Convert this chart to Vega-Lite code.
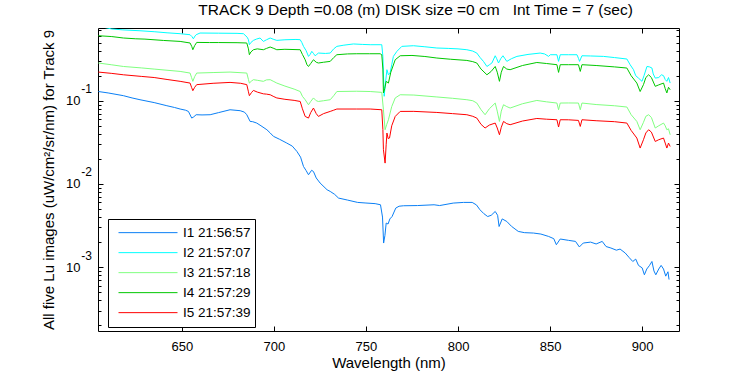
{
"$schema": "https://vega.github.io/schema/vega-lite/v6.json",
"width": 581, "height": 303,
"autosize": {"type": "none"},
"padding": {"left": 98, "top": 28, "right": 71, "bottom": 44},
"background": "white",
"config": {
  "view": {"stroke": "black", "strokeWidth": 1},
  "axis": {"grid": false, "domain": false, "tickColor": "black", "tickWidth": 1, "labelColor": "black", "labelFont": "Liberation Sans", "labelFontSize": 13, "titleFont": "Liberation Sans", "titleFontSize": 15, "titleFontWeight": "normal", "titleColor": "black", "labelFlush": false, "labelOverlap": false, "labelBound": false}
},
"title": {"text": "TRACK 9 Depth =0.08 (m) DISK size =0 cm\u00a0\u00a0 Int Time = 7 (sec)", "font": "Liberation Sans", "fontSize": 15.5, "fontWeight": "normal", "color": "black", "anchor": "middle", "dx": 27, "offset": 8},
"datasets": {"spec": [
{"s":"I1 21:56:57","w":604.7,"v":0.129},{"s":"I1 21:56:57","w":610,"v":0.124},{"s":"I1 21:56:57","w":618.3,"v":0.115},{"s":"I1 21:56:57","w":623,"v":0.108},{"s":"I1 21:56:57","w":627.3,"v":0.1028},{"s":"I1 21:56:57","w":635,"v":0.095},{"s":"I1 21:56:57","w":641.9,"v":0.0871},{"s":"I1 21:56:57","w":646,"v":0.083},{"s":"I1 21:56:57","w":649.1,"v":0.0795},{"s":"I1 21:56:57","w":652,"v":0.077},{"s":"I1 21:56:57","w":653.6,"v":0.0744},{"s":"I1 21:56:57","w":655.4,"v":0.0619},{"s":"I1 21:56:57","w":656.5,"v":0.064},{"s":"I1 21:56:57","w":657.8,"v":0.0679},{"s":"I1 21:56:57","w":661,"v":0.0675},{"s":"I1 21:56:57","w":665.4,"v":0.0679},{"s":"I1 21:56:57","w":670,"v":0.072},{"s":"I1 21:56:57","w":676.2,"v":0.0779},{"s":"I1 21:56:57","w":681.7,"v":0.0759},{"s":"I1 21:56:57","w":684,"v":0.073},{"s":"I1 21:56:57","w":685.3,"v":0.0679},{"s":"I1 21:56:57","w":687.1,"v":0.0564},{"s":"I1 21:56:57","w":688.5,"v":0.056},{"s":"I1 21:56:57","w":690.7,"v":0.0539},{"s":"I1 21:56:57","w":693,"v":0.05},{"s":"I1 21:56:57","w":696.2,"v":0.0448},{"s":"I1 21:56:57","w":698,"v":0.041},{"s":"I1 21:56:57","w":699.8,"v":0.0373},{"s":"I1 21:56:57","w":703,"v":0.0345},{"s":"I1 21:56:57","w":707,"v":0.031},{"s":"I1 21:56:57","w":710,"v":0.0285},{"s":"I1 21:56:57","w":712.5,"v":0.0246},{"s":"I1 21:56:57","w":714.5,"v":0.021},{"s":"I1 21:56:57","w":716.1,"v":0.0162},{"s":"I1 21:56:57","w":717.5,"v":0.0145},{"s":"I1 21:56:57","w":718.8,"v":0.0129},{"s":"I1 21:56:57","w":720.5,"v":0.0146},{"s":"I1 21:56:57","w":721.5,"v":0.0141},{"s":"I1 21:56:57","w":723,"v":0.0118},{"s":"I1 21:56:57","w":725.1,"v":0.01026},{"s":"I1 21:56:57","w":728.9,"v":0.00851},{"s":"I1 21:56:57","w":730.6,"v":0.00813},{"s":"I1 21:56:57","w":733,"v":0.0075},{"s":"I1 21:56:57","w":735.1,"v":0.00677},{"s":"I1 21:56:57","w":740,"v":0.0064},{"s":"I1 21:56:57","w":745.5,"v":0.006},{"s":"I1 21:56:57","w":750,"v":0.0059},{"s":"I1 21:56:57","w":755,"v":0.0058},{"s":"I1 21:56:57","w":757.9,"v":0.00562},{"s":"I1 21:56:57","w":759,"v":0.004},{"s":"I1 21:56:57","w":759.6,"v":0.00195},{"s":"I1 21:56:57","w":760.3,"v":0.0024},{"s":"I1 21:56:57","w":761,"v":0.00339},{"s":"I1 21:56:57","w":762,"v":0.0033},{"s":"I1 21:56:57","w":763,"v":0.0038},{"s":"I1 21:56:57","w":764.2,"v":0.00406},{"s":"I1 21:56:57","w":766.2,"v":0.00513},{"s":"I1 21:56:57","w":768,"v":0.0054},{"s":"I1 21:56:57","w":770.4,"v":0.00547},{"s":"I1 21:56:57","w":778,"v":0.0055},{"s":"I1 21:56:57","w":787,"v":0.00562},{"s":"I1 21:56:57","w":790,"v":0.0055},{"s":"I1 21:56:57","w":797.4,"v":0.00589},{"s":"I1 21:56:57","w":803,"v":0.006},{"s":"I1 21:56:57","w":807.7,"v":0.006},{"s":"I1 21:56:57","w":810,"v":0.0056},{"s":"I1 21:56:57","w":811.9,"v":0.0049},{"s":"I1 21:56:57","w":814,"v":0.0044},{"s":"I1 21:56:57","w":816.1,"v":0.00406},{"s":"I1 21:56:57","w":818,"v":0.0042},{"s":"I1 21:56:57","w":820.2,"v":0.00467},{"s":"I1 21:56:57","w":821.5,"v":0.0042},{"s":"I1 21:56:57","w":822.3,"v":0.00308},{"s":"I1 21:56:57","w":824,"v":0.0038},{"s":"I1 21:56:57","w":826.5,"v":0.00354},{"s":"I1 21:56:57","w":829,"v":0.0031},{"s":"I1 21:56:57","w":832.7,"v":0.00269},{"s":"I1 21:56:57","w":836,"v":0.0026},{"s":"I1 21:56:57","w":841,"v":0.00257},{"s":"I1 21:56:57","w":845,"v":0.0025},{"s":"I1 21:56:57","w":849.2,"v":0.00234},{"s":"I1 21:56:57","w":852,"v":0.0022},{"s":"I1 21:56:57","w":853.4,"v":0.00186},{"s":"I1 21:56:57","w":855.5,"v":0.00218},{"s":"I1 21:56:57","w":860,"v":0.0021},{"s":"I1 21:56:57","w":863.8,"v":0.00204},{"s":"I1 21:56:57","w":865.9,"v":0.00175},{"s":"I1 21:56:57","w":868,"v":0.00195},{"s":"I1 21:56:57","w":872,"v":0.002},{"s":"I1 21:56:57","w":875,"v":0.0019},{"s":"I1 21:56:57","w":878.3,"v":0.00204},{"s":"I1 21:56:57","w":880.4,"v":0.00177},{"s":"I1 21:56:57","w":883,"v":0.0017},{"s":"I1 21:56:57","w":886,"v":0.0016},{"s":"I1 21:56:57","w":888,"v":0.00165},{"s":"I1 21:56:57","w":890.8,"v":0.00148},{"s":"I1 21:56:57","w":893,"v":0.0013},{"s":"I1 21:56:57","w":894.9,"v":0.00117},{"s":"I1 21:56:57","w":896.5,"v":0.00125},{"s":"I1 21:56:57","w":898,"v":0.00105},{"s":"I1 21:56:57","w":900,"v":0.00098},{"s":"I1 21:56:57","w":901.2,"v":0.00081},{"s":"I1 21:56:57","w":902.5,"v":0.00095},{"s":"I1 21:56:57","w":904,"v":0.00105},{"s":"I1 21:56:57","w":905.3,"v":0.00117},{"s":"I1 21:56:57","w":906.4,"v":0.0009},{"s":"I1 21:56:57","w":907.4,"v":0.00081},{"s":"I1 21:56:57","w":909,"v":0.00095},{"s":"I1 21:56:57","w":910.3,"v":0.00105},{"s":"I1 21:56:57","w":911.6,"v":0.00095},{"s":"I1 21:56:57","w":912.8,"v":0.00078},{"s":"I1 21:56:57","w":914,"v":0.00088},{"s":"I1 21:56:57","w":914.6,"v":0.00071},
{"s":"I2 21:57:07","w":604.7,"v":0.78},{"s":"I2 21:57:07","w":608,"v":0.76},{"s":"I2 21:57:07","w":612,"v":0.728},{"s":"I2 21:57:07","w":618,"v":0.71},{"s":"I2 21:57:07","w":627.3,"v":0.693},{"s":"I2 21:57:07","w":635,"v":0.675},{"s":"I2 21:57:07","w":642,"v":0.655},{"s":"I2 21:57:07","w":649.1,"v":0.639},{"s":"I2 21:57:07","w":654.5,"v":0.621},{"s":"I2 21:57:07","w":655.5,"v":0.59},{"s":"I2 21:57:07","w":656.3,"v":0.555},{"s":"I2 21:57:07","w":657.2,"v":0.6},{"s":"I2 21:57:07","w":657.8,"v":0.621},{"s":"I2 21:57:07","w":659.9,"v":0.651},{"s":"I2 21:57:07","w":670,"v":0.648},{"s":"I2 21:57:07","w":680,"v":0.645},{"s":"I2 21:57:07","w":683.5,"v":0.639},{"s":"I2 21:57:07","w":685.5,"v":0.58},{"s":"I2 21:57:07","w":686.2,"v":0.541},{"s":"I2 21:57:07","w":686.7,"v":0.471},{"s":"I2 21:57:07","w":687.5,"v":0.5},{"s":"I2 21:57:07","w":688.9,"v":0.531},{"s":"I2 21:57:07","w":690.5,"v":0.55},{"s":"I2 21:57:07","w":692.5,"v":0.567},{"s":"I2 21:57:07","w":694.3,"v":0.516},{"s":"I2 21:57:07","w":696,"v":0.54},{"s":"I2 21:57:07","w":698,"v":0.567},{"s":"I2 21:57:07","w":700,"v":0.545},{"s":"I2 21:57:07","w":701.6,"v":0.531},{"s":"I2 21:57:07","w":706,"v":0.54},{"s":"I2 21:57:07","w":712,"v":0.545},{"s":"I2 21:57:07","w":714.3,"v":0.541},{"s":"I2 21:57:07","w":715.2,"v":0.5},{"s":"I2 21:57:07","w":716.1,"v":0.45},{"s":"I2 21:57:07","w":717.5,"v":0.4},{"s":"I2 21:57:07","w":718.8,"v":0.341},{"s":"I2 21:57:07","w":719.7,"v":0.36},{"s":"I2 21:57:07","w":720.6,"v":0.392},{"s":"I2 21:57:07","w":721.5,"v":0.37},{"s":"I2 21:57:07","w":722.4,"v":0.347},{"s":"I2 21:57:07","w":723.3,"v":0.36},{"s":"I2 21:57:07","w":724.2,"v":0.374},{"s":"I2 21:57:07","w":728,"v":0.37},{"s":"I2 21:57:07","w":730.6,"v":0.374},{"s":"I2 21:57:07","w":732.5,"v":0.42},{"s":"I2 21:57:07","w":734.2,"v":0.45},{"s":"I2 21:57:07","w":738,"v":0.465},{"s":"I2 21:57:07","w":743.2,"v":0.481},{"s":"I2 21:57:07","w":748,"v":0.475},{"s":"I2 21:57:07","w":752.3,"v":0.471},{"s":"I2 21:57:07","w":757.7,"v":0.471},{"s":"I2 21:57:07","w":758.6,"v":0.471},{"s":"I2 21:57:07","w":759.2,"v":0.341},{"s":"I2 21:57:07","w":759.9,"v":0.113},{"s":"I2 21:57:07","w":760.4,"v":0.149},{"s":"I2 21:57:07","w":761.4,"v":0.236},{"s":"I2 21:57:07","w":762.2,"v":0.205},{"s":"I2 21:57:07","w":763.1,"v":0.215},{"s":"I2 21:57:07","w":764,"v":0.27},{"s":"I2 21:57:07","w":764.9,"v":0.341},{"s":"I2 21:57:07","w":766.8,"v":0.392},{"s":"I2 21:57:07","w":769.5,"v":0.45},{"s":"I2 21:57:07","w":775.8,"v":0.458},{"s":"I2 21:57:07","w":782,"v":0.445},{"s":"I2 21:57:07","w":788.5,"v":0.43},{"s":"I2 21:57:07","w":795,"v":0.425},{"s":"I2 21:57:07","w":800,"v":0.42},{"s":"I2 21:57:07","w":804.8,"v":0.41},{"s":"I2 21:57:07","w":808,"v":0.395},{"s":"I2 21:57:07","w":810.2,"v":0.374},{"s":"I2 21:57:07","w":812,"v":0.33},{"s":"I2 21:57:07","w":813.8,"v":0.297},{"s":"I2 21:57:07","w":815.7,"v":0.258},{"s":"I2 21:57:07","w":817,"v":0.27},{"s":"I2 21:57:07","w":818.4,"v":0.284},{"s":"I2 21:57:07","w":820.2,"v":0.347},{"s":"I2 21:57:07","w":821,"v":0.32},{"s":"I2 21:57:07","w":822,"v":0.284},{"s":"I2 21:57:07","w":823.2,"v":0.32},{"s":"I2 21:57:07","w":824.4,"v":0.347},{"s":"I2 21:57:07","w":825.5,"v":0.32},{"s":"I2 21:57:07","w":826.5,"v":0.297},{"s":"I2 21:57:07","w":829,"v":0.32},{"s":"I2 21:57:07","w":832,"v":0.341},{"s":"I2 21:57:07","w":838,"v":0.36},{"s":"I2 21:57:07","w":844.6,"v":0.374},{"s":"I2 21:57:07","w":847,"v":0.365},{"s":"I2 21:57:07","w":849.2,"v":0.341},{"s":"I2 21:57:07","w":850.1,"v":0.357},{"s":"I2 21:57:07","w":853.7,"v":0.357},{"s":"I2 21:57:07","w":854.6,"v":0.297},{"s":"I2 21:57:07","w":855.5,"v":0.357},{"s":"I2 21:57:07","w":860,"v":0.357},{"s":"I2 21:57:07","w":864.6,"v":0.357},{"s":"I2 21:57:07","w":865.5,"v":0.32},{"s":"I2 21:57:07","w":866,"v":0.297},{"s":"I2 21:57:07","w":867.3,"v":0.347},{"s":"I2 21:57:07","w":872,"v":0.345},{"s":"I2 21:57:07","w":879,"v":0.341},{"s":"I2 21:57:07","w":885,"v":0.33},{"s":"I2 21:57:07","w":891.7,"v":0.317},{"s":"I2 21:57:07","w":893.5,"v":0.27},{"s":"I2 21:57:07","w":895.3,"v":0.236},{"s":"I2 21:57:07","w":896.5,"v":0.2},{"s":"I2 21:57:07","w":898,"v":0.187},{"s":"I2 21:57:07","w":899.9,"v":0.171},{"s":"I2 21:57:07","w":901,"v":0.2},{"s":"I2 21:57:07","w":902.6,"v":0.258},{"s":"I2 21:57:07","w":904,"v":0.255},{"s":"I2 21:57:07","w":905.3,"v":0.247},{"s":"I2 21:57:07","w":906,"v":0.21},{"s":"I2 21:57:07","w":907.1,"v":0.187},{"s":"I2 21:57:07","w":909,"v":0.19},{"s":"I2 21:57:07","w":910.5,"v":0.205},{"s":"I2 21:57:07","w":911.6,"v":0.2},{"s":"I2 21:57:07","w":912.5,"v":0.18},{"s":"I2 21:57:07","w":913.4,"v":0.171},{"s":"I2 21:57:07","w":914.3,"v":0.19},{"s":"I2 21:57:07","w":915.2,"v":0.163},
{"s":"I3 21:57:18","w":604.7,"v":0.284},{"s":"I3 21:57:18","w":612,"v":0.27},{"s":"I3 21:57:18","w":618.3,"v":0.258},{"s":"I3 21:57:18","w":628,"v":0.248},{"s":"I3 21:57:18","w":635,"v":0.24},{"s":"I3 21:57:18","w":649.1,"v":0.225},{"s":"I3 21:57:18","w":654.5,"v":0.215},{"s":"I3 21:57:18","w":655.3,"v":0.19},{"s":"I3 21:57:18","w":656,"v":0.171},{"s":"I3 21:57:18","w":657,"v":0.195},{"s":"I3 21:57:18","w":658.1,"v":0.215},{"s":"I3 21:57:18","w":667,"v":0.218},{"s":"I3 21:57:18","w":676.2,"v":0.221},{"s":"I3 21:57:18","w":685.3,"v":0.215},{"s":"I3 21:57:18","w":686.2,"v":0.18},{"s":"I3 21:57:18","w":686.7,"v":0.163},{"s":"I3 21:57:18","w":687.8,"v":0.172},{"s":"I3 21:57:18","w":688.9,"v":0.179},{"s":"I3 21:57:18","w":691,"v":0.176},{"s":"I3 21:57:18","w":694.3,"v":0.171},{"s":"I3 21:57:18","w":696,"v":0.178},{"s":"I3 21:57:18","w":698,"v":0.179},{"s":"I3 21:57:18","w":700,"v":0.17},{"s":"I3 21:57:18","w":701.6,"v":0.163},{"s":"I3 21:57:18","w":706,"v":0.15},{"s":"I3 21:57:18","w":711,"v":0.138},{"s":"I3 21:57:18","w":714.3,"v":0.129},{"s":"I3 21:57:18","w":715.5,"v":0.113},{"s":"I3 21:57:18","w":717,"v":0.1028},{"s":"I3 21:57:18","w":718.8,"v":0.0895},{"s":"I3 21:57:18","w":720,"v":0.098},{"s":"I3 21:57:18","w":721.5,"v":0.108},{"s":"I3 21:57:18","w":723,"v":0.1},{"s":"I3 21:57:18","w":724.2,"v":0.098},{"s":"I3 21:57:18","w":727,"v":0.1},{"s":"I3 21:57:18","w":730.6,"v":0.1028},{"s":"I3 21:57:18","w":732.5,"v":0.115},{"s":"I3 21:57:18","w":734.2,"v":0.129},{"s":"I3 21:57:18","w":745,"v":0.13},{"s":"I3 21:57:18","w":752.3,"v":0.129},{"s":"I3 21:57:18","w":758.6,"v":0.126},{"s":"I3 21:57:18","w":759.5,"v":0.0779},{"s":"I3 21:57:18","w":760.4,"v":0.0448},{"s":"I3 21:57:18","w":761.3,"v":0.052},{"s":"I3 21:57:18","w":762.2,"v":0.0591},{"s":"I3 21:57:18","w":764,"v":0.085},{"s":"I3 21:57:18","w":765.9,"v":0.108},{"s":"I3 21:57:18","w":768.6,"v":0.118},{"s":"I3 21:57:18","w":776,"v":0.117},{"s":"I3 21:57:18","w":788.5,"v":0.111},{"s":"I3 21:57:18","w":797,"v":0.107},{"s":"I3 21:57:18","w":804.8,"v":0.1028},{"s":"I3 21:57:18","w":808,"v":0.1},{"s":"I3 21:57:18","w":810.2,"v":0.0938},{"s":"I3 21:57:18","w":812.5,"v":0.078},{"s":"I3 21:57:18","w":814.7,"v":0.0679},{"s":"I3 21:57:18","w":817,"v":0.08},{"s":"I3 21:57:18","w":820.2,"v":0.0938},{"s":"I3 21:57:18","w":821.3,"v":0.075},{"s":"I3 21:57:18","w":822.5,"v":0.0564},{"s":"I3 21:57:18","w":823.5,"v":0.075},{"s":"I3 21:57:18","w":824.7,"v":0.0895},{"s":"I3 21:57:18","w":826.5,"v":0.085},{"s":"I3 21:57:18","w":828.3,"v":0.0817},{"s":"I3 21:57:18","w":835,"v":0.092},{"s":"I3 21:57:18","w":842.8,"v":0.1008},{"s":"I3 21:57:18","w":848,"v":0.097},{"s":"I3 21:57:18","w":853.7,"v":0.0938},{"s":"I3 21:57:18","w":854.6,"v":0.0779},{"s":"I3 21:57:18","w":855.5,"v":0.0938},{"s":"I3 21:57:18","w":860,"v":0.094},{"s":"I3 21:57:18","w":865.4,"v":0.0938},{"s":"I3 21:57:18","w":866.4,"v":0.0779},{"s":"I3 21:57:18","w":867.3,"v":0.0938},{"s":"I3 21:57:18","w":875,"v":0.09},{"s":"I3 21:57:18","w":885,"v":0.087},{"s":"I3 21:57:18","w":891.7,"v":0.084},{"s":"I3 21:57:18","w":894,"v":0.068},{"s":"I3 21:57:18","w":897.1,"v":0.0564},{"s":"I3 21:57:18","w":898.9,"v":0.0448},{"s":"I3 21:57:18","w":900.7,"v":0.055},{"s":"I3 21:57:18","w":902,"v":0.065},{"s":"I3 21:57:18","w":903.5,"v":0.0679},{"s":"I3 21:57:18","w":905,"v":0.063},{"s":"I3 21:57:18","w":907.1,"v":0.047},{"s":"I3 21:57:18","w":909,"v":0.05},{"s":"I3 21:57:18","w":911.6,"v":0.0539},{"s":"I3 21:57:18","w":912.5,"v":0.05},{"s":"I3 21:57:18","w":913.4,"v":0.0448},{"s":"I3 21:57:18","w":914.3,"v":0.046},{"s":"I3 21:57:18","w":915.2,"v":0.039},
{"s":"I4 21:57:29","w":604.7,"v":0.604},{"s":"I4 21:57:29","w":612,"v":0.59},{"s":"I4 21:57:29","w":618.3,"v":0.567},{"s":"I4 21:57:29","w":625,"v":0.555},{"s":"I4 21:57:29","w":630,"v":0.55},{"s":"I4 21:57:29","w":640,"v":0.53},{"s":"I4 21:57:29","w":649.1,"v":0.516},{"s":"I4 21:57:29","w":654.5,"v":0.494},{"s":"I4 21:57:29","w":655.4,"v":0.45},{"s":"I4 21:57:29","w":656,"v":0.41},{"s":"I4 21:57:29","w":657,"v":0.46},{"s":"I4 21:57:29","w":658.1,"v":0.502},{"s":"I4 21:57:29","w":665,"v":0.5},{"s":"I4 21:57:29","w":670,"v":0.5},{"s":"I4 21:57:29","w":680,"v":0.498},{"s":"I4 21:57:29","w":685.3,"v":0.494},{"s":"I4 21:57:29","w":686.2,"v":0.42},{"s":"I4 21:57:29","w":686.7,"v":0.357},{"s":"I4 21:57:29","w":687.5,"v":0.385},{"s":"I4 21:57:29","w":688.9,"v":0.41},{"s":"I4 21:57:29","w":691,"v":0.42},{"s":"I4 21:57:29","w":694.3,"v":0.41},{"s":"I4 21:57:29","w":696,"v":0.425},{"s":"I4 21:57:29","w":698,"v":0.442},{"s":"I4 21:57:29","w":700,"v":0.425},{"s":"I4 21:57:29","w":701.6,"v":0.41},{"s":"I4 21:57:29","w":706,"v":0.415},{"s":"I4 21:57:29","w":714.3,"v":0.41},{"s":"I4 21:57:29","w":715.5,"v":0.36},{"s":"I4 21:57:29","w":717,"v":0.311},{"s":"I4 21:57:29","w":718,"v":0.27},{"s":"I4 21:57:29","w":718.8,"v":0.258},{"s":"I4 21:57:29","w":720,"v":0.28},{"s":"I4 21:57:29","w":721.5,"v":0.311},{"s":"I4 21:57:29","w":723,"v":0.29},{"s":"I4 21:57:29","w":724.2,"v":0.284},{"s":"I4 21:57:29","w":727,"v":0.29},{"s":"I4 21:57:29","w":730.6,"v":0.297},{"s":"I4 21:57:29","w":732.5,"v":0.33},{"s":"I4 21:57:29","w":734.2,"v":0.357},{"s":"I4 21:57:29","w":740,"v":0.365},{"s":"I4 21:57:29","w":745,"v":0.367},{"s":"I4 21:57:29","w":752,"v":0.367},{"s":"I4 21:57:29","w":757.7,"v":0.367},{"s":"I4 21:57:29","w":758.6,"v":0.357},{"s":"I4 21:57:29","w":759.2,"v":0.24},{"s":"I4 21:57:29","w":759.5,"v":0.124},{"s":"I4 21:57:29","w":760.2,"v":0.14},{"s":"I4 21:57:29","w":761,"v":0.171},{"s":"I4 21:57:29","w":762.2,"v":0.163},{"s":"I4 21:57:29","w":763.5,"v":0.22},{"s":"I4 21:57:29","w":765.9,"v":0.311},{"s":"I4 21:57:29","w":768.6,"v":0.347},{"s":"I4 21:57:29","w":775,"v":0.35},{"s":"I4 21:57:29","w":782,"v":0.34},{"s":"I4 21:57:29","w":788.5,"v":0.326},{"s":"I4 21:57:29","w":796,"v":0.315},{"s":"I4 21:57:29","w":804.8,"v":0.305},{"s":"I4 21:57:29","w":808,"v":0.295},{"s":"I4 21:57:29","w":810.2,"v":0.284},{"s":"I4 21:57:29","w":812.5,"v":0.24},{"s":"I4 21:57:29","w":815.7,"v":0.205},{"s":"I4 21:57:29","w":818,"v":0.225},{"s":"I4 21:57:29","w":820.2,"v":0.258},{"s":"I4 21:57:29","w":821.3,"v":0.22},{"s":"I4 21:57:29","w":822.5,"v":0.171},{"s":"I4 21:57:29","w":823.5,"v":0.22},{"s":"I4 21:57:29","w":824.7,"v":0.258},{"s":"I4 21:57:29","w":826.5,"v":0.24},{"s":"I4 21:57:29","w":828.3,"v":0.236},{"s":"I4 21:57:29","w":835,"v":0.265},{"s":"I4 21:57:29","w":842.8,"v":0.288},{"s":"I4 21:57:29","w":848,"v":0.28},{"s":"I4 21:57:29","w":853.7,"v":0.271},{"s":"I4 21:57:29","w":854.6,"v":0.219},{"s":"I4 21:57:29","w":855.5,"v":0.271},{"s":"I4 21:57:29","w":860,"v":0.271},{"s":"I4 21:57:29","w":865.4,"v":0.271},{"s":"I4 21:57:29","w":866.4,"v":0.225},{"s":"I4 21:57:29","w":867.3,"v":0.271},{"s":"I4 21:57:29","w":875,"v":0.265},{"s":"I4 21:57:29","w":885,"v":0.255},{"s":"I4 21:57:29","w":891.7,"v":0.247},{"s":"I4 21:57:29","w":894,"v":0.2},{"s":"I4 21:57:29","w":897.1,"v":0.163},{"s":"I4 21:57:29","w":898.9,"v":0.129},{"s":"I4 21:57:29","w":900.7,"v":0.156},{"s":"I4 21:57:29","w":902,"v":0.19},{"s":"I4 21:57:29","w":903.5,"v":0.205},{"s":"I4 21:57:29","w":905,"v":0.19},{"s":"I4 21:57:29","w":907.1,"v":0.149},{"s":"I4 21:57:29","w":909,"v":0.155},{"s":"I4 21:57:29","w":911.6,"v":0.163},{"s":"I4 21:57:29","w":912.5,"v":0.14},{"s":"I4 21:57:29","w":913.4,"v":0.124},{"s":"I4 21:57:29","w":914.3,"v":0.145},{"s":"I4 21:57:29","w":915.2,"v":0.1355},
{"s":"I5 21:57:39","w":604.7,"v":0.221},{"s":"I5 21:57:39","w":612,"v":0.213},{"s":"I5 21:57:39","w":618.3,"v":0.205},{"s":"I5 21:57:39","w":628,"v":0.196},{"s":"I5 21:57:39","w":635,"v":0.19},{"s":"I5 21:57:39","w":642,"v":0.18},{"s":"I5 21:57:39","w":649.1,"v":0.171},{"s":"I5 21:57:39","w":654.5,"v":0.163},{"s":"I5 21:57:39","w":655.3,"v":0.145},{"s":"I5 21:57:39","w":656,"v":0.132},{"s":"I5 21:57:39","w":657,"v":0.145},{"s":"I5 21:57:39","w":658.1,"v":0.156},{"s":"I5 21:57:39","w":667,"v":0.162},{"s":"I5 21:57:39","w":676.2,"v":0.166},{"s":"I5 21:57:39","w":682,"v":0.162},{"s":"I5 21:57:39","w":685.3,"v":0.156},{"s":"I5 21:57:39","w":686.2,"v":0.128},{"s":"I5 21:57:39","w":686.7,"v":0.115},{"s":"I5 21:57:39","w":687.8,"v":0.125},{"s":"I5 21:57:39","w":688.9,"v":0.133},{"s":"I5 21:57:39","w":691,"v":0.127},{"s":"I5 21:57:39","w":694.3,"v":0.121},{"s":"I5 21:57:39","w":696,"v":0.12},{"s":"I5 21:57:39","w":698,"v":0.118},{"s":"I5 21:57:39","w":700,"v":0.112},{"s":"I5 21:57:39","w":701.6,"v":0.108},{"s":"I5 21:57:39","w":706,"v":0.104},{"s":"I5 21:57:39","w":711,"v":0.101},{"s":"I5 21:57:39","w":714.3,"v":0.098},{"s":"I5 21:57:39","w":715.5,"v":0.08},{"s":"I5 21:57:39","w":717,"v":0.0648},{"s":"I5 21:57:39","w":718.8,"v":0.0619},{"s":"I5 21:57:39","w":720,"v":0.072},{"s":"I5 21:57:39","w":721.5,"v":0.0817},{"s":"I5 21:57:39","w":723,"v":0.07},{"s":"I5 21:57:39","w":724.2,"v":0.0648},{"s":"I5 21:57:39","w":727,"v":0.07},{"s":"I5 21:57:39","w":730.6,"v":0.0744},{"s":"I5 21:57:39","w":732.5,"v":0.077},{"s":"I5 21:57:39","w":734.2,"v":0.0795},{"s":"I5 21:57:39","w":745,"v":0.0795},{"s":"I5 21:57:39","w":752.3,"v":0.0795},{"s":"I5 21:57:39","w":758.6,"v":0.0779},{"s":"I5 21:57:39","w":759.2,"v":0.045},{"s":"I5 21:57:39","w":759.5,"v":0.0258},{"s":"I5 21:57:39","w":760.4,"v":0.0178},{"s":"I5 21:57:39","w":761,"v":0.03},{"s":"I5 21:57:39","w":761.4,"v":0.0409},{"s":"I5 21:57:39","w":762.1,"v":0.035},{"s":"I5 21:57:39","w":762.8,"v":0.0356},{"s":"I5 21:57:39","w":764,"v":0.05},{"s":"I5 21:57:39","w":765.9,"v":0.0648},{"s":"I5 21:57:39","w":768.6,"v":0.0744},{"s":"I5 21:57:39","w":776,"v":0.0745},{"s":"I5 21:57:39","w":788.5,"v":0.0723},{"s":"I5 21:57:39","w":797,"v":0.07},{"s":"I5 21:57:39","w":804.8,"v":0.0679},{"s":"I5 21:57:39","w":808,"v":0.065},{"s":"I5 21:57:39","w":810.2,"v":0.0619},{"s":"I5 21:57:39","w":812.5,"v":0.052},{"s":"I5 21:57:39","w":814.7,"v":0.047},{"s":"I5 21:57:39","w":817,"v":0.051},{"s":"I5 21:57:39","w":820.2,"v":0.0539},{"s":"I5 21:57:39","w":821.3,"v":0.047},{"s":"I5 21:57:39","w":822.5,"v":0.039},{"s":"I5 21:57:39","w":823.5,"v":0.048},{"s":"I5 21:57:39","w":824.7,"v":0.0564},{"s":"I5 21:57:39","w":826.5,"v":0.053},{"s":"I5 21:57:39","w":828.3,"v":0.0515},{"s":"I5 21:57:39","w":835,"v":0.057},{"s":"I5 21:57:39","w":842.8,"v":0.0612},{"s":"I5 21:57:39","w":848,"v":0.06},{"s":"I5 21:57:39","w":853.7,"v":0.0591},{"s":"I5 21:57:39","w":854.6,"v":0.0483},{"s":"I5 21:57:39","w":855.5,"v":0.0591},{"s":"I5 21:57:39","w":860,"v":0.059},{"s":"I5 21:57:39","w":865.4,"v":0.058},{"s":"I5 21:57:39","w":866.4,"v":0.0491},{"s":"I5 21:57:39","w":867.3,"v":0.0591},{"s":"I5 21:57:39","w":875,"v":0.0575},{"s":"I5 21:57:39","w":885,"v":0.056},{"s":"I5 21:57:39","w":891.7,"v":0.0539},{"s":"I5 21:57:39","w":894,"v":0.044},{"s":"I5 21:57:39","w":897.1,"v":0.0356},{"s":"I5 21:57:39","w":898.9,"v":0.027},{"s":"I5 21:57:39","w":900.7,"v":0.034},{"s":"I5 21:57:39","w":902,"v":0.041},{"s":"I5 21:57:39","w":903.5,"v":0.0448},{"s":"I5 21:57:39","w":905,"v":0.042},{"s":"I5 21:57:39","w":907.1,"v":0.0324},{"s":"I5 21:57:39","w":909,"v":0.034},{"s":"I5 21:57:39","w":911.6,"v":0.0356},{"s":"I5 21:57:39","w":912.5,"v":0.031},{"s":"I5 21:57:39","w":913.4,"v":0.027},{"s":"I5 21:57:39","w":914.3,"v":0.031},{"s":"I5 21:57:39","w":915.2,"v":0.0282}
]},
"data": {"name": "spec"},
"layer": [
  {"mark": {"type": "line", "clip": true, "strokeWidth": 1},
   "encoding": {
     "x": {"field": "w", "type": "quantitative", "scale": {"domain": [604.5, 920], "nice": false, "zero": false},
           "axis": {"orient": "bottom", "values": [650, 700, 750, 800, 850, 900], "ticks": false, "labelPadding": 9, "title": "Wavelength (nm)", "titlePadding": 2}},
     "y": {"field": "v", "type": "quantitative", "scale": {"type": "log", "domain": [0.000171, 0.748], "nice": false},
           "axis": {"orient": "left", "values": [0.001, 0.01, 0.1], "ticks": false, "labelExpr": "'10'", "labelPadding": 18, "labelAlign": "right", "labelBaseline": "middle", "title": "All five Lu images (uW/cm²/sr/nm) for Track 9", "titlePadding": 9}},
     "color": {"field": "s", "type": "nominal",
       "scale": {"domain": ["I1 21:56:57", "I2 21:57:07", "I3 21:57:18", "I4 21:57:29", "I5 21:57:39"], "range": ["#0A7FF5", "#00FFFF", "#80FF80", "#00C800", "#FF0000"]},
       "legend": {"orient": "none", "legendX": 10, "legendY": 191, "direction": "vertical", "title": null, "symbolType": "stroke", "symbolSize": 3481, "symbolStrokeWidth": 1, "clipHeight": 19.3, "rowPadding": 0, "padding": 4, "strokeColor": "black", "fillColor": "white", "labelFont": "Liberation Sans", "labelFontSize": 13.5, "labelColor": "black", "symbolOffset": 6, "labelOffset": 5, "cornerRadius": 0}}
   }},
  {"mark": {"type": "line", "opacity": 0},
   "encoding": {
     "detail": {"field": "s"},
     "x": {"field": "w", "type": "quantitative", "scale": {"domain": [604.5, 920], "nice": false, "zero": false},
           "axis": {"orient": "bottom", "values": [650, 700, 750, 800, 850, 900], "labels": false, "tickSize": -5, "title": null}},
     "y": {"field": "v", "type": "quantitative", "scale": {"type": "log", "domain": [0.000171, 0.748], "nice": false},
           "axis": {"orient": "left", "values": [0.001, 0.01, 0.1], "labels": false, "tickSize": -5, "title": null}}
   }},
  {"mark": {"type": "line", "opacity": 0},
   "encoding": {
     "detail": {"field": "s"},
     "x": {"field": "w", "type": "quantitative", "scale": {"domain": [604.5, 920], "nice": false, "zero": false},
           "axis": {"orient": "top", "values": [650, 700, 750, 800, 850, 900], "labels": false, "tickSize": -5, "title": null}},
     "y": {"field": "v", "type": "quantitative", "scale": {"type": "log", "domain": [0.000171, 0.748], "nice": false},
           "axis": {"orient": "left", "values": [0.0002, 0.0003, 0.0004, 0.0005, 0.0006, 0.0007, 0.0008, 0.0009, 0.002, 0.003, 0.004, 0.005, 0.006, 0.007, 0.008, 0.009, 0.02, 0.03, 0.04, 0.05, 0.06, 0.07, 0.08, 0.09, 0.2, 0.3, 0.4, 0.5, 0.6, 0.7], "labels": false, "tickSize": -3, "title": null}}
   }},
  {"mark": {"type": "line", "opacity": 0},
   "encoding": {
     "detail": {"field": "s"},
     "x": {"field": "w", "type": "quantitative", "scale": {"domain": [604.5, 920], "nice": false, "zero": false}, "axis": null},
     "y": {"field": "v", "type": "quantitative", "scale": {"type": "log", "domain": [0.000171, 0.748], "nice": false},
           "axis": {"orient": "right", "values": [0.001, 0.01, 0.1], "labels": false, "tickSize": -5, "title": null}}
   }},
  {"mark": {"type": "line", "opacity": 0},
   "encoding": {
     "detail": {"field": "s"},
     "x": {"field": "w", "type": "quantitative", "scale": {"domain": [604.5, 920], "nice": false, "zero": false}, "axis": null},
     "y": {"field": "v", "type": "quantitative", "scale": {"type": "log", "domain": [0.000171, 0.748], "nice": false},
           "axis": {"orient": "right", "values": [0.0002, 0.0003, 0.0004, 0.0005, 0.0006, 0.0007, 0.0008, 0.0009, 0.002, 0.003, 0.004, 0.005, 0.006, 0.007, 0.008, 0.009, 0.02, 0.03, 0.04, 0.05, 0.06, 0.07, 0.08, 0.09, 0.2, 0.3, 0.4, 0.5, 0.6, 0.7], "labels": false, "tickSize": -3, "title": null}}
   }},
  {"mark": {"type": "line", "opacity": 0},
   "encoding": {
     "detail": {"field": "s"},
     "x": {"field": "w", "type": "quantitative", "scale": {"domain": [604.5, 920], "nice": false, "zero": false}, "axis": null},
     "y": {"field": "v", "type": "quantitative", "scale": {"type": "log", "domain": [0.000171, 0.748], "nice": false},
           "axis": {"orient": "left", "values": [0.001, 0.01, 0.1], "ticks": false, "labelExpr": "datum.value < 0.005 ? '-3' : (datum.value < 0.05 ? '-2' : '-1')", "labelAlign": "left", "labelBaseline": "middle", "labelPadding": 17.3, "labelOffset": -12, "labelFontSize": 12, "title": null}}
   }}
],
"resolve": {"axis": {"x": "independent", "y": "independent"}}
}
